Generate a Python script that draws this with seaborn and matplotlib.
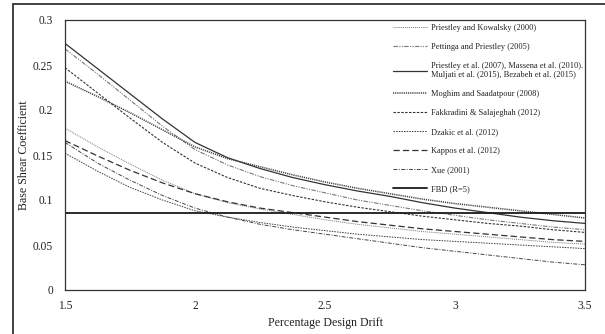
import numpy as np
import matplotlib; matplotlib.use("Agg"); import matplotlib.pyplot as plt
import seaborn as sns
from matplotlib.patches import Rectangle

# percentage design drift (x) and base shear coefficient per study
drift = [1.5, 1.625, 1.75, 1.875, 2.0, 2.125, 2.25, 2.375, 2.5,
         2.625, 2.75, 2.875, 3.0, 3.125, 3.25, 3.375, 3.5]
priestley_kowalsky_2000 = [0.180, 0.159, 0.140, 0.122, 0.107, 0.097, 0.090, 0.084, 0.078,
                           0.073, 0.069, 0.065, 0.062, 0.059, 0.056, 0.053, 0.051]
pettinga_priestley_2005 = [0.268, 0.240, 0.211, 0.182, 0.156, 0.139, 0.126, 0.116, 0.108,
                           0.100, 0.094, 0.088, 0.083, 0.078, 0.074, 0.070, 0.067]
priestley_2007 = [0.274, 0.246, 0.218, 0.190, 0.164, 0.147, 0.135, 0.125, 0.117,
                  0.110, 0.104, 0.097, 0.091, 0.086, 0.081, 0.077, 0.074]
moghim_2008 = [0.232, 0.215, 0.197, 0.178, 0.159, 0.146, 0.137, 0.128, 0.120,
               0.113, 0.107, 0.101, 0.096, 0.092, 0.088, 0.084, 0.080]
fakkradini_2012 = [0.247, 0.219, 0.191, 0.164, 0.141, 0.125, 0.113, 0.105, 0.098,
                   0.092, 0.087, 0.082, 0.078, 0.074, 0.071, 0.067, 0.064]
dzakic_2012 = [0.152, 0.132, 0.114, 0.100, 0.088, 0.081, 0.075, 0.070, 0.066,
               0.062, 0.059, 0.056, 0.054, 0.052, 0.050, 0.048, 0.046]
kappos_2012 = [0.166, 0.149, 0.133, 0.119, 0.107, 0.098, 0.091, 0.086, 0.081,
               0.076, 0.072, 0.068, 0.065, 0.062, 0.059, 0.056, 0.054]
xue_2001 = [0.164, 0.141, 0.122, 0.105, 0.091, 0.081, 0.073, 0.067, 0.062,
            0.057, 0.052, 0.047, 0.043, 0.039, 0.035, 0.031, 0.028]
fbd_r5 = 0.0855

labels = ["Priestley and Kowalsky (2000)",
          "Pettinga and Priestley (2005)",
          "Priestley et al. (2007), Massena et al. (2010).\nMuljati et al. (2015), Bezabeh et al. (2015)",
          "Moghim and Saadatpour (2008)",
          "Fakkradini & Salajeghah (2012)",
          "Dzakic et al. (2012)",
          "Kappos et al. (2012)",
          "Xue (2001)"]
series = [priestley_kowalsky_2000, pettinga_priestley_2005, priestley_2007, moghim_2008,
          fakkradini_2012, dzakic_2012, kappos_2012, xue_2001]
# (colour, linewidth, linestyle) per study
styles = [("#777777", 0.7, (0, (1, 1))),
          ("#777777", 0.8, (0, (4, 1.2, 1, 1.2, 1, 1.2))),
          ("#333333", 0.9, "-"),
          ("#444444", 1.1, (0, (0.8, 0.6))),
          ("#333333", 0.8, (0, (2.2, 1.3))),
          ("#444444", 0.7, (0, (1.6, 1.1))),
          ("#333333", 0.9, (0, (5, 2.5))),
          ("#444444", 0.7, (0, (4, 1.5, 1, 1.5)))]

yticks = [0, 0.05, 0.1, 0.15, 0.2, 0.25, 0.3]
ytick_labels = ["0", "0.05", "0.1", "0.15", "0.2", "0.25", "0.3"]
xticks = [1.5, 2, 2.5, 3, 3.5]
xtick_labels = ["1.5", "2", "2.5", "3", "3.5"]

sns.set_style("white")
plt.rcParams["font.family"] = ["Liberation Serif", "DejaVu Serif"]

fig = plt.figure(figsize=(6.05, 3.34), dpi=100)
ax = fig.add_axes([65/605, 1-290/334, 520/605, 270/334])

for lab, vals, (c, lw, ls) in zip(labels, series, styles):
    sns.lineplot(x=drift, y=vals, ax=ax, color=c, lw=lw, linestyle=ls, label=lab)
ax.axhline(fbd_r5, color="#1a1a1a", lw=1.3, label="FBD (R=5)")

ax.set_xlim(1.5, 3.5); ax.set_ylim(0, 0.3)
ax.set_xticks(xticks); ax.set_xticklabels(xtick_labels)
ax.set_yticks(yticks); ax.set_yticklabels(ytick_labels)
ax.tick_params(axis="both", direction="in", length=4, width=0.8, color="#333333",
               labelsize=8.3, labelcolor="#222222")
ax.tick_params(axis="y", pad=8.5)
ax.tick_params(axis="x", pad=7)
for s in ax.spines.values():
    s.set_color("#333333"); s.set_linewidth(0.9)
ax.set_xlabel("Percentage Design Drift", fontsize=8.6, color="#222222", labelpad=4)
ax.set_ylabel("Base Shear Coefficient", fontsize=8.6, color="#222222", labelpad=2)

h, l = ax.get_legend_handles_labels()
ax.legend(h, l, loc="upper left", bbox_to_anchor=(0.631, 0.985), frameon=False,
          fontsize=6.0, handlelength=4.1, handletextpad=0.5, labelspacing=1.32,
          borderpad=0, borderaxespad=0, labelcolor="#222222")

# outer frame around the figure
fig.patches.append(Rectangle((13/605, -0.1), 1.2, 1.1 - 4/334, transform=fig.transFigure,
                             fill=False, edgecolor="#333333", lw=1.3))

fig.savefig("out.png", dpi=100)
